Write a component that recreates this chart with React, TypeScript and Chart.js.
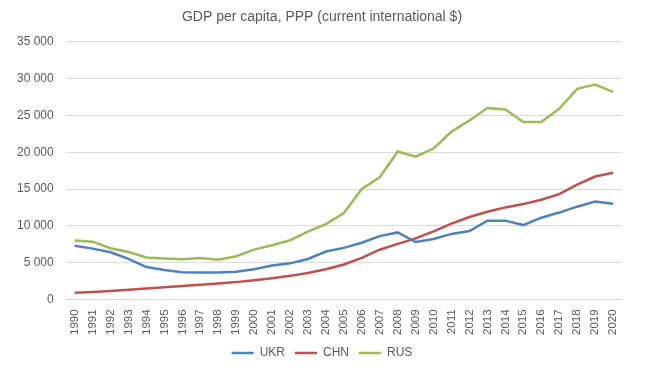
import React, { useEffect, useRef } from "react";
import { Chart, registerables } from "chart.js";

Chart.register(...registerables);

const years = ["1990","1991","1992","1993","1994","1995","1996","1997","1998","1999","2000","2001","2002","2003","2004","2005","2006","2007","2008","2009","2010","2011","2012","2013","2014","2015","2016","2017","2018","2019","2020"];

const ukr = [7300, 6900, 6400, 5500, 4400, 4000, 3700, 3650, 3650, 3750, 4100, 4600, 4900, 5500, 6500, 7000, 7700, 8600, 9100, 7800, 8200, 8900, 9300, 10700, 10700, 10100, 11100, 11800, 12600, 13300, 13000];
const chn = [900, 1000, 1150, 1300, 1480, 1650, 1820, 2000, 2170, 2350, 2600, 2880, 3200, 3600, 4100, 4750, 5650, 6750, 7550, 8300, 9250, 10300, 11200, 11900, 12500, 12950, 13550, 14300, 15600, 16700, 17200];
const rus = [8000, 7850, 6950, 6450, 5700, 5550, 5450, 5630, 5380, 5860, 6770, 7360, 8040, 9220, 10230, 11730, 15000, 16600, 20100, 19400, 20500, 22800, 24300, 26000, 25800, 24100, 24100, 25900, 28600, 29200, 28200];

const seriesNames = ["UKR", "CHN", "RUS"];
const seriesColors = ["#4F81BD", "#C0504D", "#9BBB59"];
const titleText = "GDP per capita, PPP (current international $)";

const FONT = "'Liberation Sans', Arial, sans-serif";
const TXT = "#595959";

export default function App() {
  const ref = useRef<HTMLCanvasElement | null>(null);
  useEffect(() => {
    if (!ref.current) return;
    const values = [ukr, chn, rus];
    const chart = new Chart(ref.current, {
      type: "line",
      data: {
        labels: years,
        datasets: values.map((d, i) => ({
          label: seriesNames[i],
          data: d,
          borderColor: seriesColors[i],
          backgroundColor: seriesColors[i],
          borderWidth: 2.5,
          pointRadius: 0,
          tension: 0,
          fill: false,
        })),
      },
      options: {
        responsive: false,
        animation: false,
        layout: { padding: { left: 5, right: 11, top: 7, bottom: 6 } },
        plugins: {
          title: {
            display: true,
            text: titleText,
            color: TXT,
            font: { family: FONT, size: 14, weight: "normal" },
            padding: { top: 2, bottom: 16 },
          },
          legend: {
            position: "bottom",
            labels: {
              usePointStyle: true,
              pointStyle: "line",
              pointStyleWidth: 22,
              color: TXT,
              font: { family: FONT, size: 12 },
              padding: 10,
            },
          },
          tooltip: { enabled: false },
        },
        scales: {
          x: {
            offset: true,
            grid: { display: false },
            border: { display: false },
            ticks: {
              color: TXT,
              font: { family: FONT, size: 11.5 },
              minRotation: 90,
              maxRotation: 90,
              autoSkip: false,
              padding: 2,
            },
          },
          y: {
            min: 0,
            max: 35000,
            border: { display: false },
            grid: { color: "#d9d9d9", lineWidth: 1, drawTicks: false },
            ticks: {
              stepSize: 5000,
              color: TXT,
              font: { family: FONT, size: 12 },
              padding: 12,
              callback: (v: any) => String(v).replace(/\B(?=(\d{3})+(?!\d))/g, " "),
            },
          },
          yRight: {
            type: "linear",
            position: "right",
            min: 0,
            max: 35000,
            grid: { display: false, drawTicks: false },
            border: { display: false },
            ticks: { display: false },
            afterFit: (axis: any) => {
              axis.width = 17;
            },
          },
        },
      },
    });
    return () => chart.destroy();
  }, []);
  return (
    <div style={{ position: "fixed", left: 0, top: 0, width: 650, height: 375, background: "#fff" }}>
      <canvas ref={ref} width={650} height={375} />
    </div>
  );
}
